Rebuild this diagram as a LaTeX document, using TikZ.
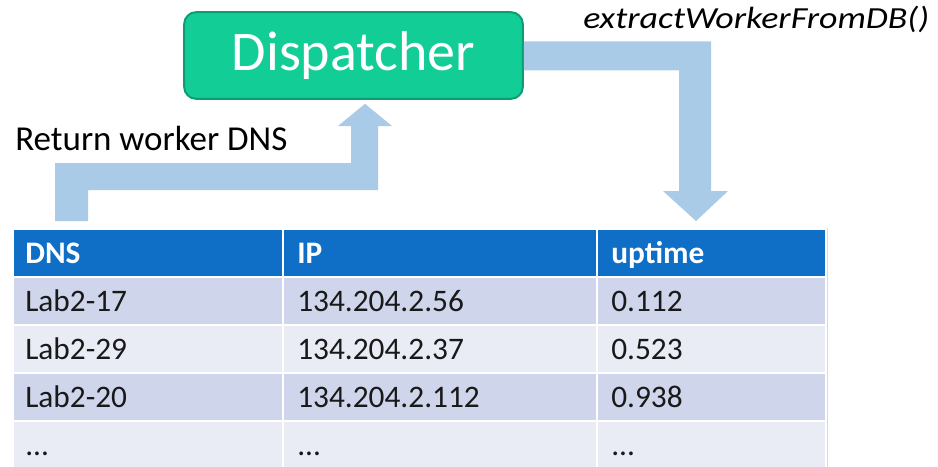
\documentclass[tikz,border=0pt]{standalone}
\usepackage{fontspec}
\setmainfont{Carlito}
\usetikzlibrary{calc}
\definecolor{dispfill}{HTML}{12CE96}
\definecolor{dispedge}{HTML}{0F9C72}
\definecolor{arrowblue}{HTML}{AACBE8}
\definecolor{hdrblue}{HTML}{0F6FC6}
\definecolor{rowdark}{HTML}{CFD5EA}
\definecolor{rowlight}{HTML}{E9EBF5}
\begin{document}
\begin{tikzpicture}[x=0.75pt,y=-0.75pt,
  disp/.style={draw=dispedge, line width=1.5pt, fill=dispfill, rounded corners=9pt,
    minimum width=254pt, minimum height=65pt, inner sep=0pt, text=white,
    font=\fontsize{42pt}{50pt}\selectfont},
  lbl/.style={inner sep=0pt, text=black, font=\fontsize{26.25pt}{30pt}\selectfont},
  blockarrow/.style={fill=arrowblue, draw=none},
  cellbox/.style={draw=white, line width=1.5pt},
  hdrtxt/.style={inner sep=0pt, anchor=base west, text=white, font=\fontsize{23.5pt}{28pt}\selectfont\bfseries},
  celltxt/.style={inner sep=0pt, anchor=base west, text=black!90, font=\fontsize{23.5pt}{28pt}\selectfont}
]
\useasboundingbox (0,0) rectangle (938,467);

% Dispatcher
\node[disp] (disp) at (353.5,55.5) {Dispatcher};

% labels
\node[lbl, anchor=base west] (ret) at (15,150) {Return worker DNS};
\node[lbl, anchor=base west, font=\fontsize{23pt}{28pt}\selectfont\itshape] (extract) at (583,29) {\scalebox{1.17}[1]{extractWorkerFromDB()}};

% table
\draw[black!15, line width=0.75pt] (12,228) rectangle (827,470);
\foreach \r/\ya/\yb/\fc in {1/277/325/rowdark, 2/325/373/rowlight, 3/373/421/rowdark, 4/421/469/rowlight}{
  \foreach \c/\xa/\xb in {1/13/283, 2/283/597, 3/597/826}{
    \draw[cellbox, fill=\fc] (\xa,\ya) rectangle (\xb,\yb);
  }
}
\foreach \c/\xa/\xb in {1/13/283, 2/283/597, 3/597/826}{
  \draw[cellbox, fill=hdrblue] (\xa,229) rectangle (\xb,277);
}
\coordinate (tbltop) at (696,229);

\node[hdrtxt] (h1) at (25,263) {DNS};
\node[hdrtxt] (h2) at (297,263) {IP};
\node[hdrtxt] (h3) at (611,263) {uptime};

\node[celltxt] (a1) at (25,311) {Lab2-17};
\node[celltxt] (b1) at (297,311) {134.204.2.56};
\node[celltxt] (c1) at (611,311) {0.112};
\node[celltxt] (a2) at (25,359) {Lab2-29};
\node[celltxt] (b2) at (297,359) {134.204.2.37};
\node[celltxt] (c2) at (611,359) {0.523};
\node[celltxt] (a3) at (25,407) {Lab2-20};
\node[celltxt] (b3) at (297,407) {134.204.2.112};
\node[celltxt] (c3) at (611,407) {0.938};
\node[celltxt] (a4) at (25,455) {...};
\node[celltxt] (b4) at (297,455) {...};
\node[celltxt] (c4) at (611,455) {...};

% block arrow: dispatcher -> table
\coordinate (e0) at ($(disp.east)+(0,-14)$);
\fill[blockarrow] (e0) -- (711,41.5) -- (711,191) -- (728,191) -- (696,221) -- (663,191)
  -- (679,191) -- (679,70.5) -- ($(disp.east)+(0,15)$) -- cycle;

% block arrow: table -> dispatcher
\fill[blockarrow] (55,221) -- (55,163) -- (351,163) -- (351,126) -- (338,126)
  -- ($(disp.south)+(11.5,4)$) -- (392,126) -- (378,126) -- (378,190) -- (88,190) -- (88,221) -- cycle;
\end{tikzpicture}
\end{document}
